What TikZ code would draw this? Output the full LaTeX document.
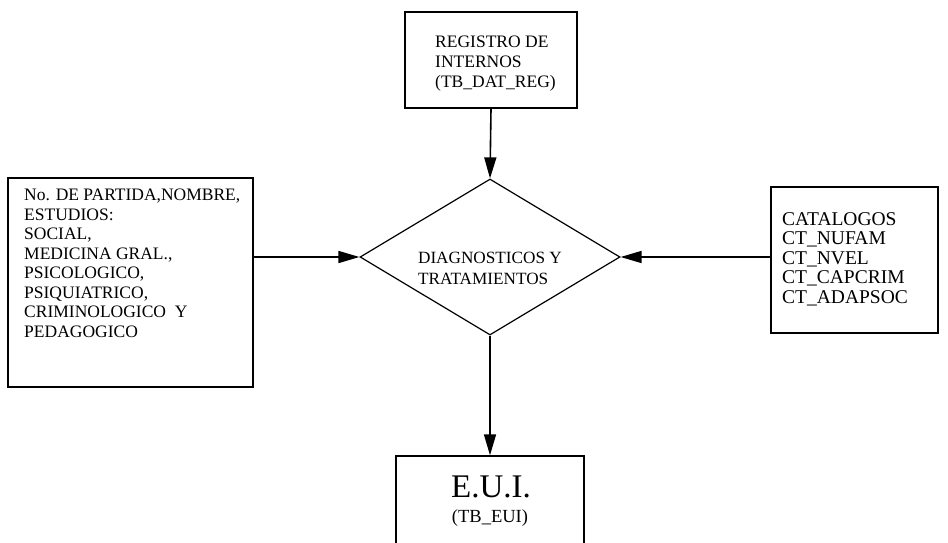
\documentclass[tikz,border=0pt]{standalone}
\usepackage{fontspec}
\setmainfont{Liberation Serif}
\usetikzlibrary{shapes.geometric,arrows.meta}
\begin{document}
\begin{tikzpicture}[x=1pt,y=-1pt,
  box/.style={draw,line width=1.4pt,inner sep=0pt},
  txt/.style={anchor=north west,align=left,inner sep=0pt},
  conn/.style={line width=1.6pt,-{Triangle[length=21pt,width=12pt]}}]
\useasboundingbox (0,0) rectangle (948,543);
\clip (0,0) rectangle (948,543);
\fill[white] (0,0) rectangle (948,543);
% boxes
\node[box,minimum width=172pt,minimum height=96pt] (reg) at (491,60) {};
\node[txt,font=\fontsize{17.5}{20}\selectfont] (regt) at (435,36) {REGISTRO DE\\INTERNOS\\(TB\_DAT\_REG)};
\node[box,minimum width=245pt,minimum height=209pt] (left) at (130.5,282.5) {};
\node[txt,font=\fontsize{17.5}{19.5}\selectfont] (leftt) at (24,189) {No. DE PARTIDA,NOMBRE,\\ESTUDIOS:\\SOCIAL,\\MEDICINA GRAL.,\\PSICOLOGICO,\\PSIQUIATRICO,\\CRIMINOLOGICO\ \ Y\\PEDAGOGICO};
\node[box,minimum width=167pt,minimum height=146pt] (cat) at (854.5,260) {};
\node[txt,font=\fontsize{19.5}{19.5}\selectfont] (catt) at (782,212) {CATALOGOS\\CT\_NUFAM\\CT\_NVEL\\CT\_CAPCRIM\\CT\_ADAPSOC};
\node[diamond,draw,line width=1.2pt,minimum width=260pt,minimum height=156pt,inner sep=0pt] (diag) at (490,257) {};
\node[align=left,inner sep=0pt,font=\fontsize{17.2}{21}\selectfont] (diagt) at (490,268) {DIAGNOSTICOS Y\\TRATAMIENTOS};
\node[box,minimum width=188pt,minimum height=110pt] (eui) at (490,511) {};
\node[inner sep=0pt,font=\fontsize{33}{33}\selectfont] (euit) at (491,487) {E.U.I.};
\node[inner sep=0pt,font=\fontsize{18.5}{18.5}\selectfont] (euis) at (490,518) {(TB\_EUI)};
% connectors
\draw[conn] (reg.south) -- (diag.north);
\draw[conn] (left.east |- diag.west) -- (diag.west);
\draw[conn] (cat.west |- diag.east) -- (diag.east);
\draw[conn] (diag.south) -- (eui.north);
\end{tikzpicture}
\end{document}
